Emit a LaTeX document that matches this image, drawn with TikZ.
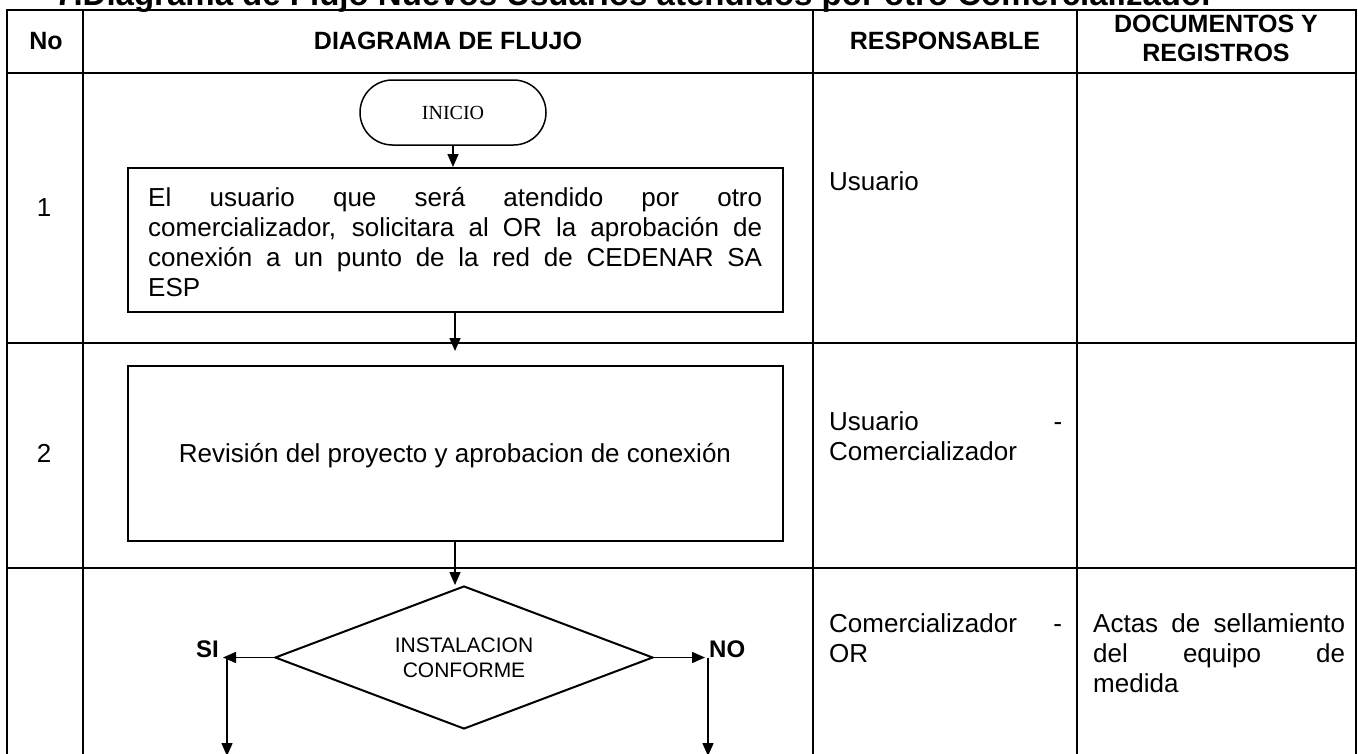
\documentclass[tikz,border=0pt]{standalone}
\usepackage{fontspec}
\setmainfont{Liberation Sans}
\newfontfamily\inifont{Liberation Serif}
\usetikzlibrary{shapes.geometric,shapes.misc,arrows.meta}
\newcommand\mystrut{\rule{0pt}{24pt}}
\hbadness=10000
\begin{document}
\begin{tikzpicture}[x=1pt,y=-1pt,
  tbl/.style={line width=2.5pt},
  hdr/.style={font=\fontsize{25}{29}\selectfont\bfseries, inner sep=0pt},
  body/.style={font=\fontsize{26}{30}\selectfont, inner sep=0pt},
  stepbox/.style={draw, line width=2pt, rectangle, inner sep=0pt, minimum width=655pt},
  arr/.style={line width=1.5pt, -{Triangle[length=13pt,width=11pt]}},
  lbl/.style={font=\fontsize{24}{28}\selectfont\bfseries, inner sep=0pt},
  ]
\fill[white] (0,0) rectangle (1358,753);
\clip (0,0) rectangle (1358,753);

% title (cut off at the top, as in the reference)
\node[anchor=base west, inner sep=0pt, font=\fontsize{33}{38}\selectfont\bfseries] (title) at (55,5)
  {7.Diagrama de Flujo Nuevos Usuarios atendidos por otro Comercializador};

% table grid
\draw[tbl] (7,770) -- (7,10) -- (1356,10) -- (1356,770);
\draw[tbl] (7,73) -- (1356,73);
\draw[tbl] (7,343) -- (1356,343);
\draw[tbl] (7,568) -- (1356,568);
\draw[tbl] (83,10) -- (83,770);
\draw[tbl] (813,10) -- (813,770);
\draw[tbl] (1077,10) -- (1077,770);

% header
\node[hdr] (hno) at (46,41) {No};
\node[hdr] (hdf) at (448,41) {DIAGRAMA DE FLUJO};
\node[hdr] (hres) at (945,41) {RESPONSABLE};
\node[hdr, anchor=north, align=center] (hdoc) at (1216,15) {DOCUMENTOS Y\\REGISTROS};

% row numbers
\node[body] (n1) at (44,208) {1};
\node[body] (n2) at (44,453) {2};

% flowchart
\node[draw, rounded rectangle, line width=1.5pt, minimum width=186pt, minimum height=65pt,
      inner sep=0pt, font=\inifont\fontsize{20}{24}\selectfont] (ini) at (453,112.5) {INICIO};
\node[stepbox, minimum height=144pt] (b1) at (455.5,240) {};
\node[body, anchor=north west, align=left] (t1) at (148,182)
  {\makebox[614pt][s]{\mystrut El usuario que será atendido por otro}\\
   \makebox[614pt][s]{comercializador, solicitara al OR la aprobación de}\\
   \makebox[614pt][s]{conexión a un punto de la red de CEDENAR SA}\\
   ESP};
\node[stepbox, minimum height=175pt] (b2) at (455.5,453.5) {};
\node[body, anchor=base] (t2) at (455,462) {Revisión del proyecto y aprobacion de conexión};

\node[draw, diamond, aspect=2.64, minimum width=378pt, minimum height=143pt, inner sep=0pt,
      line width=2pt, align=center, font=\fontsize{21}{25}\selectfont] (dia) at (464,657.5)
  {INSTALACION\\CONFORME};

\coordinate (a2) at (455,351);
\coordinate (siH) at (223,657.5);
\coordinate (siV) at (227,657.5);
\coordinate (siB) at (227,756);
\coordinate (noH) at (705,657.5);
\coordinate (noV) at (708,657.5);
\coordinate (noB) at (708,756);

\draw[arr] (ini.south) -- (ini.south |- b1.north);
\draw[arr] (b1.south -| a2) -- (a2);
\draw[arr] (b2.south -| a2) -- (a2 |- dia.north);
\draw[arr] (dia.west) -- (siH);
\draw[arr] (dia.east) -- (noH);
\draw[arr] (siV) -- (siB);
\draw[arr] (noV) -- (noB);

\node[lbl, anchor=base east] (si) at (219,657) {SI};
\node[lbl, anchor=base west] (no) at (709,657) {NO};

% responsable column
\node[body, anchor=base west] (r1) at (829,190) {Usuario};
\node[body, anchor=north west, align=left] (r2) at (829,406)
  {\makebox[233pt][s]{\mystrut Usuario\hfill-}\\Comercializador};
\node[body, anchor=north west, align=left] (r3) at (829,608)
  {\makebox[233pt][s]{\mystrut Comercializador\hfill-}\\OR};

% documentos column
\node[body, anchor=north west, align=left] (d3) at (1093,608)
  {\makebox[252pt][s]{\mystrut Actas de sellamiento}\\
   \makebox[252pt][s]{del equipo de}\\
   medida};
\end{tikzpicture}
\end{document}
